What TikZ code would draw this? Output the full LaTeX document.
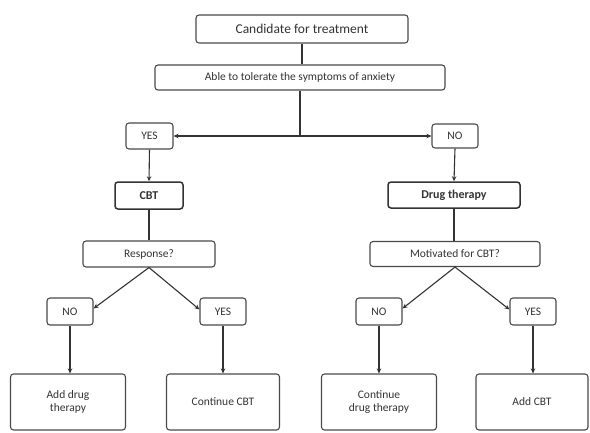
\documentclass[tikz,border=0pt]{standalone}
\usepackage{fontspec}
\setmainfont{Carlito}
\usetikzlibrary{arrows.meta,calc}
\definecolor{ink}{HTML}{333333}
\definecolor{edge}{HTML}{4A4A4A}
\tikzset{
  box/.style={draw=edge, line width=1.1pt, rounded corners=3pt, text=ink, align=center, inner sep=0pt, font=\fontsize{11.5}{13}\selectfont},
  boldbox/.style={box, line width=1.5pt, draw=ink, font=\fontsize{12}{14}\selectfont\bfseries},
  conn/.style={draw=ink, line width=1.1pt},
  arr/.style={conn, -{Stealth[length=5pt,width=4.5pt]}},
}
\begin{document}
\begin{tikzpicture}[x=1pt,y=-1pt]
\useasboundingbox (0,0) rectangle (590,432);
\node[box, minimum width=212pt, minimum height=28pt, font=\fontsize{13.5}{15}\selectfont] (cand) at (302,29) {Candidate for treatment};
\node[box, minimum width=290pt, minimum height=25pt] (able) at (300,77.5) {Able to tolerate the symptoms of anxiety};
\node[box, minimum width=47pt, minimum height=26pt] (yes1) at (149.5,136) {YES};
\node[box, minimum width=46pt, minimum height=24pt] (no1) at (455,136) {NO};
\node[boldbox, minimum width=68pt, minimum height=27pt] (cbt) at (149,195.5) {CBT};
\node[boldbox, minimum width=132pt, minimum height=26pt] (drug) at (454,195) {Drug therapy};
\node[box, minimum width=132pt, minimum height=26pt] (resp) at (149,254) {Response?};
\node[box, minimum width=170pt, minimum height=25pt] (motiv) at (455,254) {Motivated for CBT?};
\node[box, minimum width=46pt, minimum height=27pt] (no2) at (70,311.5) {NO};
\node[box, minimum width=46pt, minimum height=27pt] (yes2) at (223,311.5) {YES};
\node[box, minimum width=46pt, minimum height=27pt] (no3) at (379,311.5) {NO};
\node[box, minimum width=46pt, minimum height=27pt] (yes3) at (533,311.5) {YES};
\node[box, minimum width=115pt, minimum height=56pt] (b1) at (68,402) {Add drug\\therapy};
\node[box, minimum width=113pt, minimum height=56pt] (b2) at (223,402) {Continue CBT};
\node[box, minimum width=115pt, minimum height=56pt] (b3) at (379,402) {Continue\\drug therapy};
\node[box, minimum width=112pt, minimum height=56pt] (b4) at (532,402) {Add CBT};
\coordinate (j) at (able.south |- yes1.east);
\draw[conn] (cand.south) -- (cand.south |- able.north);
\draw[conn] (able.south) -- (j);
\draw[arr] (j) -- (yes1.east);
\draw[arr] (j) -- (no1.west);
\draw[arr] (yes1.south) -- (cbt.north);
\draw[arr] (no1.south) -- (drug.north);
\draw[conn] (cbt.south) -- (resp.north);
\draw[conn] (drug.south) -- (drug.south |- motiv.north);
\draw[arr] (resp.south) -- ($(no2.east)+(0,-3)$);
\draw[arr] (resp.south) -- ($(yes2.west)+(0,-2)$);
\draw[arr] (motiv.south) -- ($(no3.east)+(0,-3)$);
\draw[arr] (motiv.south) -- ($(yes3.west)+(0,-2)$);
\draw[arr] (no2.south) -- (no2.south |- b1.north);
\draw[arr] (yes2.south) -- (b2.north);
\draw[arr] (no3.south) -- (b3.north);
\draw[arr] (yes3.south) -- (yes3.south |- b4.north);
\end{tikzpicture}
\end{document}
